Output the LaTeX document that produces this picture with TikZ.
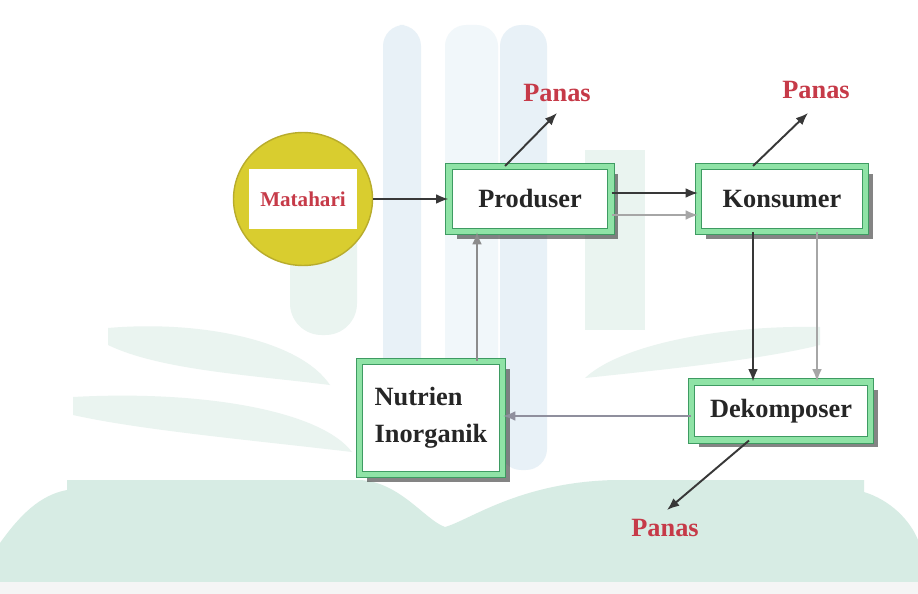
\documentclass[tikz,border=0pt]{standalone}
\usepackage{fontspec}
\setmainfont{Liberation Serif}
\usetikzlibrary{arrows.meta, positioning, shapes.geometric, shadows}
\definecolor{framedark}{HTML}{3E9B62}
\definecolor{framelight}{HTML}{8FE3A6}
\definecolor{heatred}{HTML}{C63A48}
\definecolor{sunyellow}{HTML}{D9CD2F}
\definecolor{sunedge}{HTML}{B8AC2C}
\definecolor{wmgreen}{HTML}{D7ECE4}
\definecolor{wmpale}{HTML}{EAF4F0}
\definecolor{wmblue}{HTML}{E8F1F7}
\def\boxfont{\fontsize{15}{21}\selectfont\bfseries}

\begin{document}
\begin{tikzpicture}[x=0.02cm, y=-0.02cm, >={Latex[length=7pt,width=5.5pt]}]
    \tikzstyle{flow}=[->, line width=1.1pt, draw=black!78]
    \tikzstyle{back flow}=[->, line width=0.9pt, draw=black!35]
    \tikzstyle{trophic}=[rectangle, fill=white, draw=framedark, line width=0.6pt, double=framelight, double distance=3pt, drop shadow={shadow xshift=0.15cm, shadow yshift=-0.15cm, fill=black!80, opacity=0.6}, font=\boxfont, text=black!85, inner sep=0pt]
    \tikzstyle{heat}=[font=\boxfont, text=heatred, inner sep=0pt]

    % faint watermark behind the diagram
    \useasboundingbox (0,0) rectangle (918,594);
    \fill[white] (0,0) rectangle (918,594);
    \fill[wmblue, rounded corners=12pt] (383,25) rectangle (421,470);
    \fill[wmblue!60, rounded corners=12pt] (445,25) rectangle (498,470);
    \fill[wmblue, rounded corners=12pt] (500,25) rectangle (547,470);
    \fill[wmpale, rounded corners=18pt] (290,140) rectangle (357,335);
    \fill[wmpale] (585,150) rectangle (645,330);
    \fill[wmpale] (108,328) .. controls (200,320) and (300,340) .. (330,385)
        .. controls (250,375) and (160,370) .. (108,345) -- cycle;
    \fill[wmpale] (73,397) .. controls (200,390) and (320,410) .. (352,452)
        .. controls (250,440) and (140,430) .. (73,415) -- cycle;
    \fill[wmpale] (820,327) .. controls (720,325) and (620,345) .. (585,378)
        .. controls (660,370) and (760,360) .. (820,345) -- cycle;
    \fill[wmgreen] (0,594) -- (0,543) .. controls (20,515) and (40,495) .. (67,490) -- (67,480)
        -- (360,480) .. controls (400,482) and (425,520) .. (445,527)
        .. controls (470,520) and (520,482) .. (615,480) -- (864,480) -- (864,492)
        .. controls (890,500) and (910,520) .. (918,540) -- (918,594) -- cycle;
    \fill[black!4] (0,582) rectangle (918,594);

    % the sun
    \node[ellipse, fill=sunyellow, draw=sunedge, line width=0.8pt, minimum width=2.78cm, minimum height=2.66cm] (M) at (303,199) {};
    \node[rectangle, fill=white, minimum width=2.18cm, minimum height=1.22cm, font=\fontsize{12}{14}\selectfont\bfseries, text=heatred] (Mt) at (M) {Matahari};

    % the four levels
    \node[trophic, minimum width=3.24cm, minimum height=1.3cm] (P) at (530,199) {Produser};
    \node[trophic, minimum width=3.34cm, minimum height=1.3cm] (K) at (782,199) {Konsumer};
    \node[trophic, minimum width=3.58cm, minimum height=1.16cm] (D) at (781,411) {Dekomposer};
    \node[trophic, minimum width=2.86cm, minimum height=2.26cm, align=left] (N) at (431,418) {Nutrien\\Inorganik};

    % heat leaving the system
    \node[heat] (H1) at (557,93) {Panas};
    \node[heat] (H2) at (816,90) {Panas};
    \node[heat] (H3) at (665,528) {Panas};
    \coordinate (h1) at (557,113);
    \coordinate (h2) at (808,113);
    \coordinate (h3) at (667,510);

    % energy flow
    \draw[flow] (M) -- (P);
    \draw[flow] ([yshift=0.12cm]P.east) -- ([yshift=0.12cm]K.west);
    \draw[back flow] ([yshift=-0.32cm]P.east) -- ([yshift=-0.32cm]K.west);
    \draw[flow] ([xshift=-0.58cm]K.south) -- ([xshift=-0.58cm]K.south |- D.north);
    \draw[back flow] ([xshift=0.7cm]K.south) -- ([xshift=0.7cm]K.south |- D.north);

    % nutrient cycle
    \draw[back flow, draw=black!30!blue!10!gray!80] ([yshift=-0.1cm]D.west) -- ([yshift=-0.1cm]D.west -| N.east);
    \draw[back flow, draw=black!45] ([xshift=0.92cm]N.north) -- ([xshift=0.92cm]N.north |- P.south);

    \draw[flow] ([xshift=-0.5cm]P.north) -- (h1);
    \draw[flow] ([xshift=-0.58cm]K.north) -- (h2);
    \draw[flow] ([xshift=-0.64cm]D.south) -- (h3);
\end{tikzpicture}
\end{document}
